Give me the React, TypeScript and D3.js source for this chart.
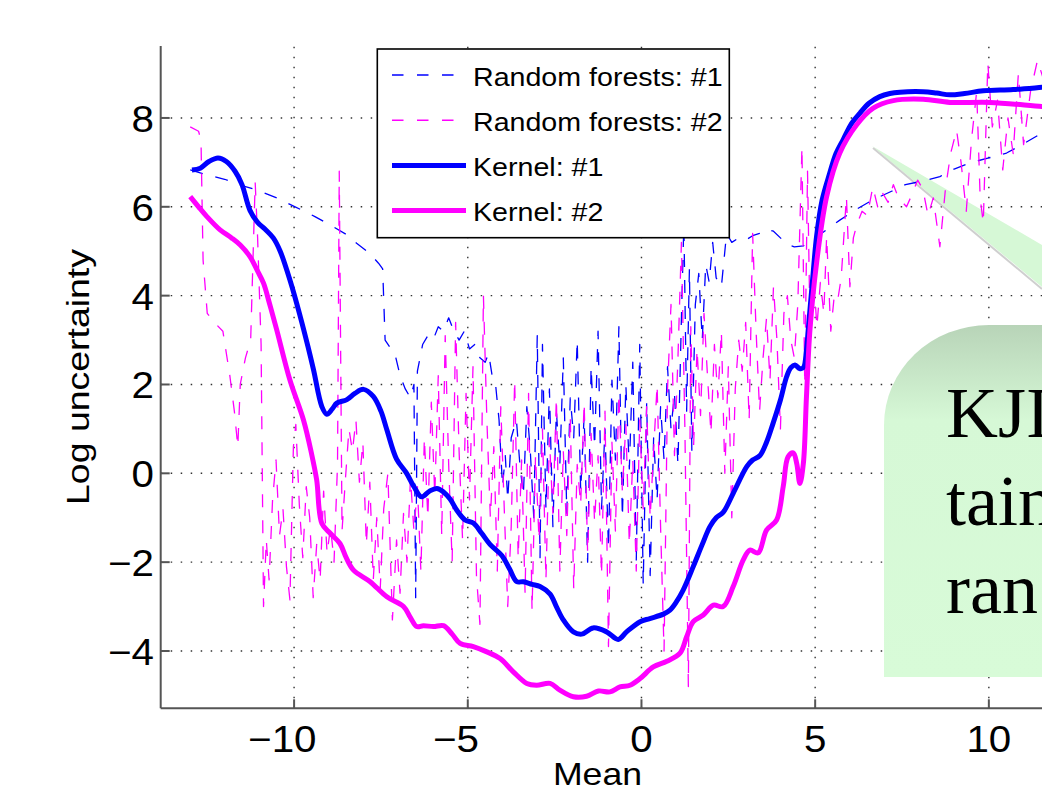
import React from 'react';
import * as d3 from 'd3';

// ---- data ----
const xTicks = [-10, -5, 0, 5, 10];
const yTicks = [-4, -2, 0, 2, 4, 6, 8];

const legendLabels = ['Random forests: #1', 'Random forests: #2', 'Kernel: #1', 'Kernel: #2'];

const kernel1: [number, number][] = [
  [-12.94, 6.83], [-12.7, 6.87], [-12.45, 7.02], [-12.19, 7.1], [-11.95, 7.02], [-11.7, 6.8],
  [-11.5, 6.5], [-11.27, 5.92], [-11.05, 5.65], [-10.84, 5.5], [-10.6, 5.3], [-10.4, 5.0],
  [-10.1, 4.3], [-9.83, 3.55], [-9.6, 2.85], [-9.44, 2.33], [-9.2, 1.5], [-9.06, 1.33],
  [-8.9, 1.45], [-8.77, 1.58], [-8.48, 1.66], [-8.25, 1.8], [-8.0, 1.89], [-7.72, 1.73],
  [-7.5, 1.4], [-7.33, 0.98], [-7.05, 0.32], [-6.76, 0.0], [-6.55, -0.3], [-6.33, -0.53],
  [-6.1, -0.4], [-5.89, -0.34], [-5.7, -0.42], [-5.51, -0.58], [-5.3, -0.85], [-5.08, -1.05],
  [-4.84, -1.12], [-4.6, -1.35], [-4.36, -1.6], [-4.02, -1.85], [-3.8, -2.15], [-3.59, -2.44],
  [-3.4, -2.44], [-3.15, -2.5], [-2.92, -2.55], [-2.63, -2.72], [-2.45, -3.0], [-2.25, -3.3],
  [-1.96, -3.57], [-1.72, -3.62], [-1.39, -3.48], [-1.0, -3.57], [-0.67, -3.74], [-0.43, -3.57],
  [-0.04, -3.34], [0.24, -3.27], [0.63, -3.17], [0.82, -3.08], [1.0, -2.9], [1.2, -2.63],
  [1.49, -2.1], [1.75, -1.6], [1.97, -1.2], [2.15, -1.0], [2.35, -0.88], [2.64, -0.45],
  [3.03, 0.15], [3.2, 0.3], [3.41, 0.4], [3.6, 0.7], [3.79, 1.13], [4.0, 1.65], [4.18, 2.18],
  [4.3, 2.38], [4.42, 2.44], [4.55, 2.36], [4.66, 2.38], [4.75, 2.78], [4.8, 3.23], [4.92, 4.3],
  [5.04, 5.33], [5.2, 6.15], [5.42, 6.76], [5.6, 7.2], [5.81, 7.52], [6.05, 7.88], [6.29, 8.11],
  [6.55, 8.33], [6.86, 8.48], [7.15, 8.55], [7.44, 8.58], [8.11, 8.59], [8.5, 8.56], [8.88, 8.52],
  [9.3, 8.55], [9.84, 8.61], [10.7, 8.64], [11.53, 8.69], [12.0, 8.72],
];

const kernel2: [number, number][] = [
  [-12.99, 6.23], [-12.75, 6.0], [-12.51, 5.78], [-12.13, 5.48], [-11.8, 5.3], [-11.55, 5.14],
  [-11.27, 4.88], [-11.05, 4.55], [-10.88, 4.28], [-10.7, 3.8], [-10.5, 3.23], [-10.12, 2.1],
  [-9.73, 1.2], [-9.5, 0.45], [-9.35, -0.15], [-9.2, -1.13], [-8.96, -1.35], [-8.68, -1.58],
  [-8.5, -1.9], [-8.29, -2.18], [-7.81, -2.44], [-7.33, -2.78], [-6.85, -3.0], [-6.65, -3.25],
  [-6.47, -3.45], [-6.28, -3.43], [-5.99, -3.45], [-5.7, -3.43], [-5.45, -3.62], [-5.22, -3.83],
  [-4.84, -3.9], [-4.45, -4.02], [-4.07, -4.17], [-3.69, -4.47], [-3.3, -4.73], [-3.02, -4.77],
  [-2.63, -4.73], [-2.35, -4.88], [-1.96, -5.03], [-1.58, -5.02], [-1.24, -4.9], [-0.91, -4.92],
  [-0.62, -4.81], [-0.33, -4.77], [-0.04, -4.62], [0.34, -4.36], [0.73, -4.23], [1.11, -4.05],
  [1.3, -3.68], [1.49, -3.34], [1.78, -3.19], [2.07, -2.97], [2.35, -3.0], [2.64, -2.55],
  [2.93, -1.95], [3.12, -1.73], [3.36, -1.79], [3.6, -1.28], [3.89, -1.05], [4.08, -0.3],
  [4.22, 0.37], [4.37, 0.46], [4.47, 0.22], [4.56, -0.23], [4.66, 0.22], [4.75, 1.73],
  [4.85, 3.23], [5.04, 4.73], [5.33, 6.23], [5.71, 7.21], [6.19, 7.84], [6.67, 8.22],
  [7.25, 8.39], [8.11, 8.42], [8.88, 8.35], [10.03, 8.35], [11.53, 8.26], [12.0, 8.24],
];

const forest1: [number, number][] = [
  [-12.99, 6.83], [-12.5, 6.72], [-12.0, 6.62], [-11.55, 6.49], [-11.07, 6.38], [-10.5, 6.2],
  [-9.97, 6.0], [-9.4, 5.78], [-8.87, 5.55], [-8.5, 5.38], [-8.2, 5.18], [-7.85, 4.97],
  [-7.57, 4.73], [-7.45, 4.6], [-7.38, 3.0], [-7.25, 2.85], [-7.1, 2.7], [-6.95, 2.2],
  [-6.8, 1.9], [-6.65, 1.7], [-6.55, 2.0], [-6.5, -2.8], [-6.45, 2.3], [-6.3, 2.9],
  [-6.15, 3.1], [-6.0, 3.0], [-5.85, 3.3], [-5.7, 3.2], [-5.55, 3.5], [-5.4, 3.2],
  [-5.25, 3.0], [-5.1, 3.2], [-4.95, 2.8], [-4.8, 2.9], [-4.65, 2.6], [-4.5, 2.5],
  [-4.4, 2.7], [-4.3, 2.2], [-4.2, 2.0], [-4.1, 1.2], [-4.0, -0.3], [-3.92, 0.4],
  [-3.85, -0.6], [-3.75, 0.8], [-3.6, 1.2], [-3.5, 0.2], [-3.4, -0.5], [-3.3, 1.5],
  [-3.2, 0.5], [-3.1, -1.0], [-3.0, 3.1], [-2.92, -1.9], [-2.85, 2.9], [-2.75, -0.8],
  [-2.65, 1.9], [-2.55, -1.2], [-2.45, 1.4], [-2.35, 0.2], [-2.25, 2.6], [-2.15, -0.9],
  [-2.05, 1.7], [-1.95, 0.8], [-1.85, 3.0], [-1.75, -0.4], [-1.65, 1.3], [-1.55, -2.0],
  [-1.45, 2.4], [-1.35, 0.6], [-1.25, 3.2], [-1.15, -0.8], [-1.05, 1.0], [-0.95, -1.7],
  [-0.85, 2.1], [-0.75, 0.3], [-0.65, 3.3], [-0.55, -1.0], [-0.45, 2.0], [-0.35, 0.1],
  [-0.25, 2.5], [-0.15, -2.0], [-0.05, 2.9], [0.05, -2.5], [0.15, 1.6], [0.25, -2.3],
  [0.35, 0.8], [0.45, -0.6], [0.55, 1.5], [0.65, 0.3], [0.75, 2.4], [0.85, 1.0],
  [0.95, 1.8], [1.05, 0.2], [1.15, 3.5], [1.22, 5.6], [1.3, 1.4], [1.38, 4.6],
  [1.45, 0.5], [1.55, 3.8], [1.65, 4.5], [1.75, 3.0], [1.85, 4.7], [1.95, 4.3],
  [2.05, 5.2], [2.15, 4.4], [2.3, 4.2], [2.45, 5.4], [2.6, 5.2], [2.8, 5.3],
  [3.0, 5.25], [3.2, 5.35], [3.4, 5.4], [3.6, 5.5], [3.8, 5.45], [4.0, 5.3],
  [4.2, 5.15], [4.4, 5.1], [4.66, 5.12], [5.0, 5.3], [5.71, 5.7], [6.2, 5.95],
  [6.67, 6.16], [7.2, 6.35], [7.6, 6.5], [8.1, 6.58], [8.59, 6.68], [9.0, 6.85],
  [9.5, 7.0], [10.0, 7.1], [10.51, 7.21], [11.0, 7.42], [11.53, 7.66], [12.0, 7.85],
];

const forest2: [number, number][] = [
  [-12.99, 7.8], [-12.75, 7.7], [-12.68, 7.5], [-12.62, 4.8], [-12.5, 3.6], [-12.3, 3.4],
  [-12.05, 3.2], [-11.85, 2.2], [-11.72, 1.4], [-11.62, 0.6], [-11.55, 2.0], [-11.4, 2.6],
  [-11.25, 3.0], [-11.12, 6.55], [-11.05, 5.3], [-10.95, 2.9], [-10.88, -3.0], [-10.8, -1.5],
  [-10.72, -2.4], [-10.62, -0.6], [-10.52, 0.3], [-10.42, -1.4], [-10.32, -0.8], [-10.22, -2.1],
  [-10.12, -2.85], [-10.02, 0.6], [-9.95, 1.1], [-9.85, -0.7], [-9.75, -1.9], [-9.65, -0.3],
  [-9.55, -1.0], [-9.45, -2.8], [-9.35, -1.6], [-9.25, -2.4], [-9.15, -0.4], [-9.05, -1.8],
  [-8.95, -1.2], [-8.85, -2.0], [-8.75, 0.2], [-8.7, 6.8], [-8.62, -1.3], [-8.52, -0.1],
  [-8.42, 1.0], [-8.32, 0.5], [-8.22, 1.2], [-8.12, -0.2], [-8.02, 0.7], [-7.92, -1.6],
  [-7.82, -0.2], [-7.72, -2.4], [-7.62, -1.0], [-7.52, -2.6], [-7.42, -0.8], [-7.3, 0.0],
  [-7.17, -3.3], [-7.05, -1.5], [-6.95, -2.7], [-6.85, -0.9], [-6.75, -2.0], [-6.65, -0.1],
  [-6.55, -1.3], [-6.45, -0.3], [-6.35, -2.2], [-6.25, 0.8], [-6.15, -1.0], [-6.05, 1.6],
  [-5.95, -0.5], [-5.85, 2.2], [-5.75, -1.4], [-5.65, 3.1], [-5.55, 0.2], [-5.45, -2.0],
  [-5.35, 3.4], [-5.25, 0.5], [-5.15, -1.5], [-5.05, 1.8], [-4.95, -0.6], [-4.85, 2.4],
  [-4.75, -2.3], [-4.65, -3.4], [-4.55, 4.0], [-4.45, 1.2], [-4.35, -1.0], [-4.25, 0.6],
  [-4.15, -2.2], [-4.05, 1.5], [-3.95, -0.8], [-3.85, -3.0], [-3.75, -1.2], [-3.65, 2.1],
  [-3.55, -1.9], [-3.45, 0.3], [-3.35, -2.7], [-3.25, 1.8], [-3.15, -3.1], [-3.05, 0.4],
  [-2.95, -1.5], [-2.85, 1.0], [-2.75, -2.4], [-2.65, 0.8], [-2.55, -0.9], [-2.45, 1.7],
  [-2.35, -2.2], [-2.25, 0.5], [-2.15, -1.4], [-2.05, 1.3], [-1.95, -2.6], [-1.85, 0.2],
  [-1.75, -0.7], [-1.65, 1.6], [-1.55, -1.8], [-1.45, 0.9], [-1.35, -1.1], [-1.25, 0.4],
  [-1.15, -2.3], [-1.05, 1.4], [-0.95, -3.9], [-0.85, 0.7], [-0.75, -1.3], [-0.65, 1.8],
  [-0.55, -0.4], [-0.45, 1.1], [-0.35, -1.6], [-0.25, 0.3], [-0.15, -2.2], [-0.05, 1.2],
  [0.05, -0.8], [0.15, 1.5], [0.25, -1.0], [0.35, 0.5], [0.45, 2.0], [0.55, -1.2],
  [0.65, -4.0], [0.75, 1.9], [0.85, 3.8], [0.95, 0.4], [1.05, 2.6], [1.15, 5.2],
  [1.25, 1.0], [1.35, -4.8], [1.42, 3.3], [1.5, 0.6], [1.6, 2.8], [1.7, 1.3],
  [1.8, 3.6], [1.9, 2.2], [2.0, 0.9], [2.1, 2.9], [2.2, 1.7], [2.3, 3.2],
  [2.4, 0.0], [2.5, 2.4], [2.6, -1.0], [2.7, 1.9], [2.8, 3.0], [2.9, 2.3],
  [3.0, 3.4], [3.1, 1.2], [3.2, 5.4], [3.3, 3.2], [3.4, 1.4], [3.5, 2.6],
  [3.6, 3.5], [3.7, 2.1], [3.8, 4.2], [3.9, 3.0], [4.0, 1.0], [4.1, 3.6],
  [4.2, 4.0], [4.3, 3.0], [4.4, 2.6], [4.5, 3.8], [4.62, 7.35], [4.7, 2.0],
  [4.78, 6.8], [4.85, 3.4], [4.95, 4.5], [5.05, 3.3], [5.15, 4.3], [5.25, 3.6],
  [5.33, 5.33], [5.45, 3.2], [5.55, 4.0], [5.65, 3.9], [5.75, 4.4], [5.9, 6.23],
  [6.0, 4.2], [6.1, 5.3], [6.2, 5.6], [6.35, 5.9], [6.5, 5.8], [6.66, 6.45],
  [6.8, 6.0], [6.95, 6.3], [7.1, 6.1], [7.25, 6.5], [7.4, 6.2], [7.63, 6.0],
  [7.8, 6.3], [7.95, 6.6], [8.1, 6.4], [8.25, 5.8], [8.4, 6.2], [8.59, 5.1],
  [8.75, 6.4], [8.9, 7.2], [9.07, 7.73], [9.2, 7.0], [9.35, 5.9], [9.5, 7.5],
  [9.65, 8.6], [9.75, 6.2], [9.84, 5.63], [9.97, 9.24], [10.1, 7.8], [10.25, 8.4],
  [10.4, 6.83], [10.55, 8.0], [10.7, 7.2], [10.85, 9.0], [11.0, 7.4], [11.2, 8.6],
  [11.4, 9.3], [11.6, 8.8],
];

const calloutLines = ['KJI', 'tain', 'ran'];

// ---- layout ----
const W = 1042;
const H = 791;
const left = 160.7;
const right = 1042;
const top = 46;
const bottom = 708.3;
const FONT = '"Liberation Sans", Arial, Helvetica, sans-serif';

const x = d3.scaleLinear().domain([-13.84, 11.53]).range([left, right]);
const y = d3.scaleLinear().domain([-5.29, 9.62]).range([bottom, top]);

const smooth = d3.line<[number, number]>()
  .x(d => x(d[0]))
  .y(d => y(d[1]))
  .curve(d3.curveCatmullRom.alpha(0.5));

const jagged = d3.line<[number, number]>()
  .x(d => x(d[0]))
  .y(d => y(d[1]));

const BLUE = '#0000ff';
const MAGENTA = '#ff00ff';

function SText(props: { x: number; y: number; size: number; anchor?: string; sx?: number; rotate?: number; family?: string; children: React.ReactNode }) {
  const { sx = 1, rotate = 0, anchor = 'start', family = FONT } = props;
  return (
    <text
      transform={`translate(${props.x},${props.y}) rotate(${rotate}) scale(${sx},1)`}
      textAnchor={anchor}
      fontSize={props.size}
      fontFamily={family}
      fill="#000"
    >
      {props.children}
    </text>
  );
}

const fmt = (v: number) => (v < 0 ? '\u2212' + Math.abs(v) : String(v));

export default function App() {
  const tickFs = 37;
  const tickSx = 1.09;
  const legendRows = [75, 120.2, 165.4, 210.6];
  const legendStyle = [
    { color: BLUE, width: 1.4, dash: '11.5 13.5' },
    { color: MAGENTA, width: 1.4, dash: '11.5 13.5' },
    { color: BLUE, width: 5, dash: undefined },
    { color: MAGENTA, width: 5, dash: undefined },
  ];

  return (
    <svg width={W} height={H} style={{ position: 'absolute', left: 0, top: 0, background: '#fff' }}>
      <defs>
        <clipPath id="plotArea">
          <rect x={left} y={top} width={right - left + 50} height={bottom - top} />
        </clipPath>
        <linearGradient id="boxFill" x1="0" y1="0" x2="0" y2="1">
          <stop offset="0" stopColor="#b8d4b8" />
          <stop offset="0.27" stopColor="#d6f8d6" />
          <stop offset="1" stopColor="#d8fbd8" />
        </linearGradient>
      </defs>

      {/* grid */}
      <g stroke="#333" strokeWidth={1.4} strokeDasharray="1.5 8.5">
        {xTicks.map(t => (
          <line key={'gx' + t} x1={x(t)} x2={x(t)} y1={bottom} y2={top} />
        ))}
        {yTicks.map(t => (
          <line key={'gy' + t} x1={left} x2={right} y1={y(t)} y2={y(t)} />
        ))}
      </g>

      {/* callout pointer */}
      <polygon points="872,146 1042,245 1042,287" fill="#d6f8d6" />
      <line x1={873} y1={148} x2={1042} y2={289} stroke="#cfcfcf" strokeWidth={2} />

      {/* series */}
      <g clipPath="url(#plotArea)" fill="none" strokeLinejoin="round">
        <path d={jagged(forest1) || ''} stroke={BLUE} strokeWidth={1.3} strokeDasharray="13 13" />
        <path d={jagged(forest2) || ''} stroke={MAGENTA} strokeWidth={1.3} strokeDasharray="13 13" />
        <path d={smooth(kernel1) || ''} stroke={BLUE} strokeWidth={5} />
        <path d={smooth(kernel2) || ''} stroke={MAGENTA} strokeWidth={5} />
      </g>

      {/* axes */}
      <g stroke="#555" strokeWidth={2}>
        <line x1={left} x2={left} y1={top} y2={bottom} />
        <line x1={left} x2={right} y1={bottom} y2={bottom} />
        {xTicks.map(t => (
          <line key={'tx' + t} x1={x(t)} x2={x(t)} y1={bottom} y2={bottom - 9} />
        ))}
        {yTicks.map(t => (
          <line key={'ty' + t} x1={left} x2={left + 9} y1={y(t)} y2={y(t)} />
        ))}
      </g>

      {/* tick labels */}
      {xTicks.map(t => {
        const digits = String(Math.abs(t)).length;
        const half = (digits * 0.556 * tickFs * tickSx) / 2;
        return (
          <SText key={'lx' + t} x={x(t) + half} y={752} size={tickFs} anchor="end" sx={tickSx}>
            {fmt(t)}
          </SText>
        );
      })}
      {yTicks.map(t => (
        <SText key={'ly' + t} x={154} y={y(t) + 14} size={tickFs} anchor="end" sx={tickSx}>
          {fmt(t)}
        </SText>
      ))}

      {/* axis labels */}
      <SText x={597.5} y={785} size={31} anchor="middle" sx={1.15}>Mean</SText>
      <SText x={89} y={377} size={32} anchor="middle" sx={1.17} rotate={-90}>Log uncertainty</SText>

      {/* legend */}
      <rect x={377.3} y={49} width={352} height={188.7} fill="#fff" stroke="#000" strokeWidth={1.6} />
      {legendLabels.map((lab, i) => (
        <g key={lab}>
          <line
            x1={392}
            x2={466}
            y1={legendRows[i]}
            y2={legendRows[i]}
            stroke={legendStyle[i].color}
            strokeWidth={legendStyle[i].width}
            strokeDasharray={legendStyle[i].dash}
          />
          <SText x={473} y={legendRows[i] + 10.5} size={26} sx={1.1}>{lab}</SText>
        </g>
      ))}

      {/* callout box */}
      <path d="M884,677 L884,425 A105,100 0 0 1 989,325 L1100,325 L1100,677 Z" fill="url(#boxFill)" />
      {calloutLines.map((s, i) => (
        <SText key={s} x={946} y={437 + i * 88} size={72} family={'"Liberation Serif", "DejaVu Serif", serif'}>
          {s}
        </SText>
      ))}
    </svg>
  );
}
